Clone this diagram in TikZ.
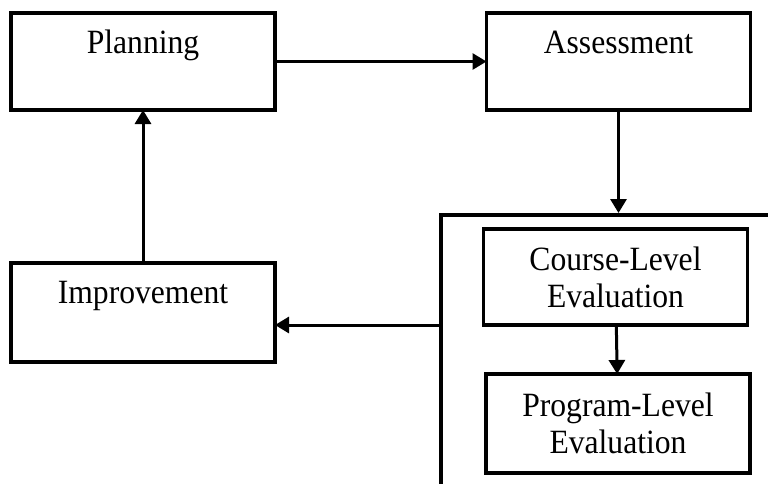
\documentclass[tikz,border=0pt]{standalone}
\usepackage{fontspec}
\setmainfont[FakeStretch=0.93]{Liberation Serif}
\usepackage{tikz}
\usetikzlibrary{arrows.meta, positioning}

\begin{document}
\begin{tikzpicture}[
    x=1pt, y=-1pt,
    node distance=49pt,
    every node/.style={font=\fontsize{34}{37}\selectfont},
    block/.style={
        rectangle,
        draw,
        line width=3.6pt,
        outer sep=0pt,
        inner sep=0pt,
        text centered,
        minimum width=264pt,
        minimum height=97pt
    },
    topblock/.style={block, text height=40pt, text depth=57pt},
    arrow/.style={line width=3pt,-{Triangle[length=14pt,width=16pt]}},
    frame/.style={line width=3.6pt}
]
\useasboundingbox (0,0) rectangle (768,483);

\node (planning) [topblock] at (143,61.5) {Planning};
\node (assessment) [topblock, right=211.5pt of planning] {Assessment};
\node (improvement) [topblock, below=153pt of planning, text depth=59pt] {Improvement};
\node (course) [block, align=center, minimum height=96pt] at (615.5,277) {Course-Level\\Evaluation};
\node (program) [block, align=center, minimum height=99pt, below=49pt of course, xshift=2.5pt] {Program-Level\\Evaluation};

% open frame round the evaluation boxes
\draw [frame] (770,215) -- (441,215) -- (441,485);
\coordinate (ftop) at (618.5,213);
\coordinate (fleft) at (441,325);

\draw [arrow] (planning) -- (assessment);
\draw [arrow] (assessment) -- (ftop);
\draw [arrow] (course) -- (program);
\draw [arrow] (fleft) -- (fleft -| improvement.east);
\draw [arrow] (improvement) -- (planning);

\end{tikzpicture}
\end{document}
